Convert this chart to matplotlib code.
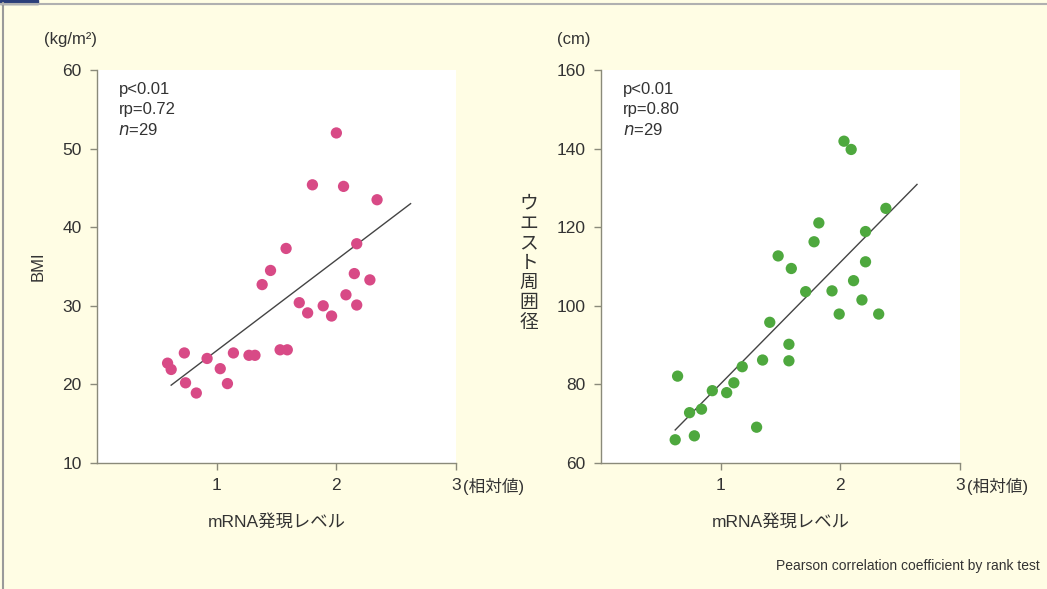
import matplotlib
matplotlib.use("Agg")
import matplotlib.pyplot as plt
from matplotlib.patches import Rectangle
from matplotlib.lines import Line2D

plt.rcParams['font.family'] = ['Liberation Sans', 'Noto Sans CJK JP', 'DejaVu Sans']

# BMI vs mRNA level (left panel)
bmi_x = [0.59, 0.62, 0.73, 0.74, 0.83, 0.92, 1.03, 1.09, 1.14, 1.27, 1.32,
         1.38, 1.45, 1.58, 1.53, 1.59, 1.69, 1.76, 1.80, 1.89, 1.96, 2.00,
         2.06, 2.08, 2.15, 2.17, 2.17, 2.28, 2.34]
bmi_y = [22.7, 21.9, 24.0, 20.2, 18.9, 23.3, 22.0, 20.1, 24.0, 23.7, 23.7,
         32.7, 34.5, 37.3, 24.4, 24.4, 30.4, 29.1, 45.4, 30.0, 28.7, 52.0,
         45.2, 31.4, 34.1, 37.9, 30.1, 33.3, 43.5]
bmi_fit_x = [0.62, 2.62]
bmi_fit_y = [19.9, 43.0]

# waist circumference vs mRNA level (right panel)
waist_x = [0.62, 0.64, 0.74, 0.78, 0.84, 0.93, 1.05, 1.11, 1.18, 1.30, 1.35,
           1.41, 1.48, 1.57, 1.57, 1.59, 1.71, 1.78, 1.82, 1.93, 1.99, 2.03,
           2.09, 2.11, 2.18, 2.21, 2.21, 2.32, 2.38]
waist_y = [65.9, 82.1, 72.8, 66.9, 73.7, 78.4, 77.9, 80.4, 84.5, 69.1, 86.2,
           95.8, 112.7, 90.2, 86.0, 109.5, 103.6, 116.3, 121.1, 103.8, 97.9,
           141.9, 139.8, 106.4, 101.5, 111.2, 118.9, 97.9, 124.8]
waist_fit_x = [0.62, 2.64]
waist_fit_y = [68.4, 130.9]

x_ticks = [1, 2, 3]
bmi_ticks = [10, 20, 30, 40, 50, 60]
waist_ticks = [60, 80, 100, 120, 140, 160]

bg = '#fffde4'
fig = plt.figure(figsize=(10.47, 5.89), dpi=100, facecolor=bg)

# frame decoration
fig.add_artist(Line2D([0.003, 0.003], [0, 0.995], transform=fig.transFigure,
                      color='#9a9a9a', lw=1.5))
fig.add_artist(Line2D([0, 1], [0.994, 0.994], transform=fig.transFigure,
                      color='#b0b0b0', lw=1.5))
fig.add_artist(Rectangle((0, 0.993), 0.036, 0.007, transform=fig.transFigure,
                         color='#2b3f7a'))


def panel(ax, xs, ys, fx, fy, yticks, color, stats):
    ax.set_facecolor('white')
    ax.scatter(xs, ys, s=66, color=color, edgecolors='none', zorder=3)
    ax.plot(fx, fy, color='#444444', lw=1.0, zorder=2)
    ax.set_xlim(0, 3)
    ax.set_ylim(yticks[0], yticks[-1])
    ax.set_xticks(x_ticks)
    ax.set_xticklabels(['1', '2', '3'])
    ax.set_yticks(yticks)
    for side in ['top', 'right']:
        ax.spines[side].set_visible(False)
    for side in ['left', 'bottom']:
        ax.spines[side].set_color('#8a8a7a')
        ax.spines[side].set_linewidth(1.0)
    ax.tick_params(direction='out', length=5, width=1, color='#8a8a7a',
                   labelsize=12.5, labelcolor='#333333', pad=6)
    ax.text(0.06, 0.97, stats, transform=ax.transAxes, va='top', ha='left',
            fontsize=12, color='#333333', linespacing=1.4)
    ax.annotate('(相対値)', xy=(3, yticks[0]), xycoords='data',
                xytext=(5, -11), textcoords='offset points', ha='left', va='top',
                fontsize=12, color='#333333')
    ax.set_xlabel('mRNA発現レベル', fontsize=12.5, color='#333333', labelpad=15)


ax1 = fig.add_axes([0.0926, 0.214, 0.343, 0.667])
panel(ax1, bmi_x, bmi_y, bmi_fit_x, bmi_fit_y, bmi_ticks, '#d84a86',
      'p<0.01\nrp=0.72\n$n$=29')
ax1.set_ylabel('BMI', fontsize=12, color='#333333', labelpad=12)
fig.text(0.067, 0.925, '(kg/m²)', fontsize=12, color='#333333', ha='center')

ax2 = fig.add_axes([0.574, 0.214, 0.343, 0.667])
panel(ax2, waist_x, waist_y, waist_fit_x, waist_fit_y, waist_ticks, '#4ea83e',
      'p<0.01\nrp=0.80\n$n$=29')
fig.text(0.548, 0.925, '(cm)', fontsize=12, color='#333333', ha='center')
fig.text(0.505, 0.552, '\n'.join('ウエスト周囲径'), fontsize=13.5, color='#333333',
         ha='center', va='center', linespacing=1.22)

fig.text(0.993, 0.032, 'Pearson correlation coefficient by rank test',
         fontsize=10, color='#333333', ha='right')

fig.savefig('out.png', dpi=100, facecolor=bg)
